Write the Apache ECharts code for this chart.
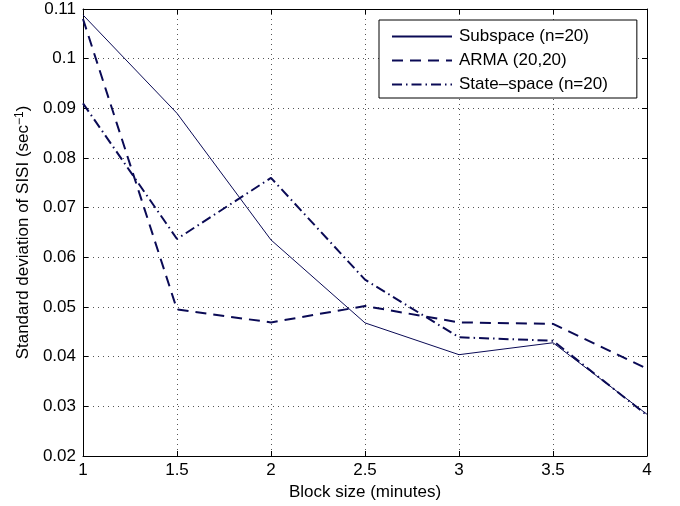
<!DOCTYPE html>
<html><head><meta charset="utf-8">
<script src="https://cdn.jsdelivr.net/npm/echarts@6/dist/echarts.min.js"></script>
<style>html,body{margin:0;padding:0;background:#fff}#c{width:680px;height:506px}</style>
</head><body><div id="c"></div>
<script>
const blockSizes = [1, 1.5, 2, 2.5, 3, 3.5, 4];
const subspace = [0.1088, 0.0890, 0.0635, 0.0468, 0.0404, 0.0428, 0.0284];
const arma = [0.1080, 0.0495, 0.0469, 0.0502, 0.0469, 0.0466, 0.0376];
const stateSpace = [0.0910, 0.0637, 0.0760, 0.0555, 0.0439, 0.0432, 0.0282];
const seriesNames = ['Subspace (n=20)', 'ARMA (20,20)', 'State\u2013space (n=20)'];
const xTicks = {min: 1, max: 4, interval: 0.5};
const yTicks = {min: 0.02, max: 0.11, interval: 0.01};

const col = '#0a0a55';
const font = 'Liberation Sans, Arial, Helvetica, sans-serif';
const fs = 17;
const pair = (xs, ys) => xs.map((x, i) => [x, ys[i]]);
const gridLine = {show: true, lineStyle: {color: '#555', type: [1, 4], width: 1}};
const chart = echarts.init(document.getElementById('c'));
chart.setOption({
  animation: false,
  backgroundColor: '#fff',
  grid: {left: 83, right: 33, top: 9, bottom: 50, show: false},
  legend: {
    orient: 'vertical', left: 379, top: 20,
    backgroundColor: '#fff', borderColor: '#000', borderWidth: 1,
    padding: [8, 29, 5, 12], itemGap: 7, itemWidth: 60, itemHeight: 18,
    itemStyle: {opacity: 0},
    textStyle: {fontFamily: font, fontSize: fs, color: '#000', padding: [0, 0, 0, 2]},
    data: seriesNames
  },
  xAxis: [{
    type: 'value', min: xTicks.min, max: xTicks.max, interval: xTicks.interval,
    name: 'Block size (minutes)', nameLocation: 'middle', nameGap: 27,
    nameTextStyle: {fontFamily: font, fontSize: fs, color: '#000'},
    axisLine: {lineStyle: {color: '#000', width: 1}},
    axisTick: {inside: true, length: 5, lineStyle: {color: '#000'}},
    axisLabel: {fontFamily: font, fontSize: fs, color: '#000', margin: 6,
      formatter: v => String(+v.toFixed(2))},
    splitLine: gridLine
  }, {
    type: 'value', position: 'top', min: xTicks.min, max: xTicks.max, interval: xTicks.interval,
    axisLine: {show: true, lineStyle: {color: '#000', width: 1}},
    axisTick: {inside: true, length: 5, lineStyle: {color: '#000'}},
    axisLabel: {show: false}, splitLine: {show: false}
  }],
  yAxis: [{
    type: 'value', min: yTicks.min, max: yTicks.max, interval: yTicks.interval,
    name: '{a|Standard deviation of SISI (sec}{s|\u22121}{a|)}',
    nameLocation: 'middle', nameGap: 40, nameRotate: 90,
    nameTextStyle: {rich: {
      a: {fontFamily: font, fontSize: fs, color: '#000'},
      s: {fontFamily: font, fontSize: 12, color: '#000', verticalAlign: 'top', padding: [0, 0, 8, 0]}
    }},
    axisLine: {show: true, lineStyle: {color: '#000', width: 1}},
    axisTick: {inside: true, length: 5, lineStyle: {color: '#000'}},
    axisLabel: {fontFamily: font, fontSize: fs, color: '#000', margin: 7,
      formatter: v => String(+v.toFixed(2))},
    splitLine: gridLine
  }, {
    type: 'value', position: 'right', min: yTicks.min, max: yTicks.max, interval: yTicks.interval,
    axisLine: {show: true, lineStyle: {color: '#000', width: 1}},
    axisTick: {inside: true, length: 5, lineStyle: {color: '#000'}},
    axisLabel: {show: false}, splitLine: {show: false}
  }],
  series: [
    {name: seriesNames[0], type: 'line', data: pair(blockSizes, subspace), symbol: 'none',
     lineStyle: {color: col, width: 1, type: 'solid'}, itemStyle: {color: col}},
    {name: seriesNames[1], type: 'line', data: pair(blockSizes, arma), symbol: 'none',
     lineStyle: {color: col, width: 2, type: [11, 7]}, itemStyle: {color: col}},
    {name: seriesNames[2], type: 'line', data: pair(blockSizes, stateSpace), symbol: 'none',
     lineStyle: {color: col, width: 2, type: [10, 4, 1.5, 4]}, itemStyle: {color: col}}
  ]
});
</script></body></html>
